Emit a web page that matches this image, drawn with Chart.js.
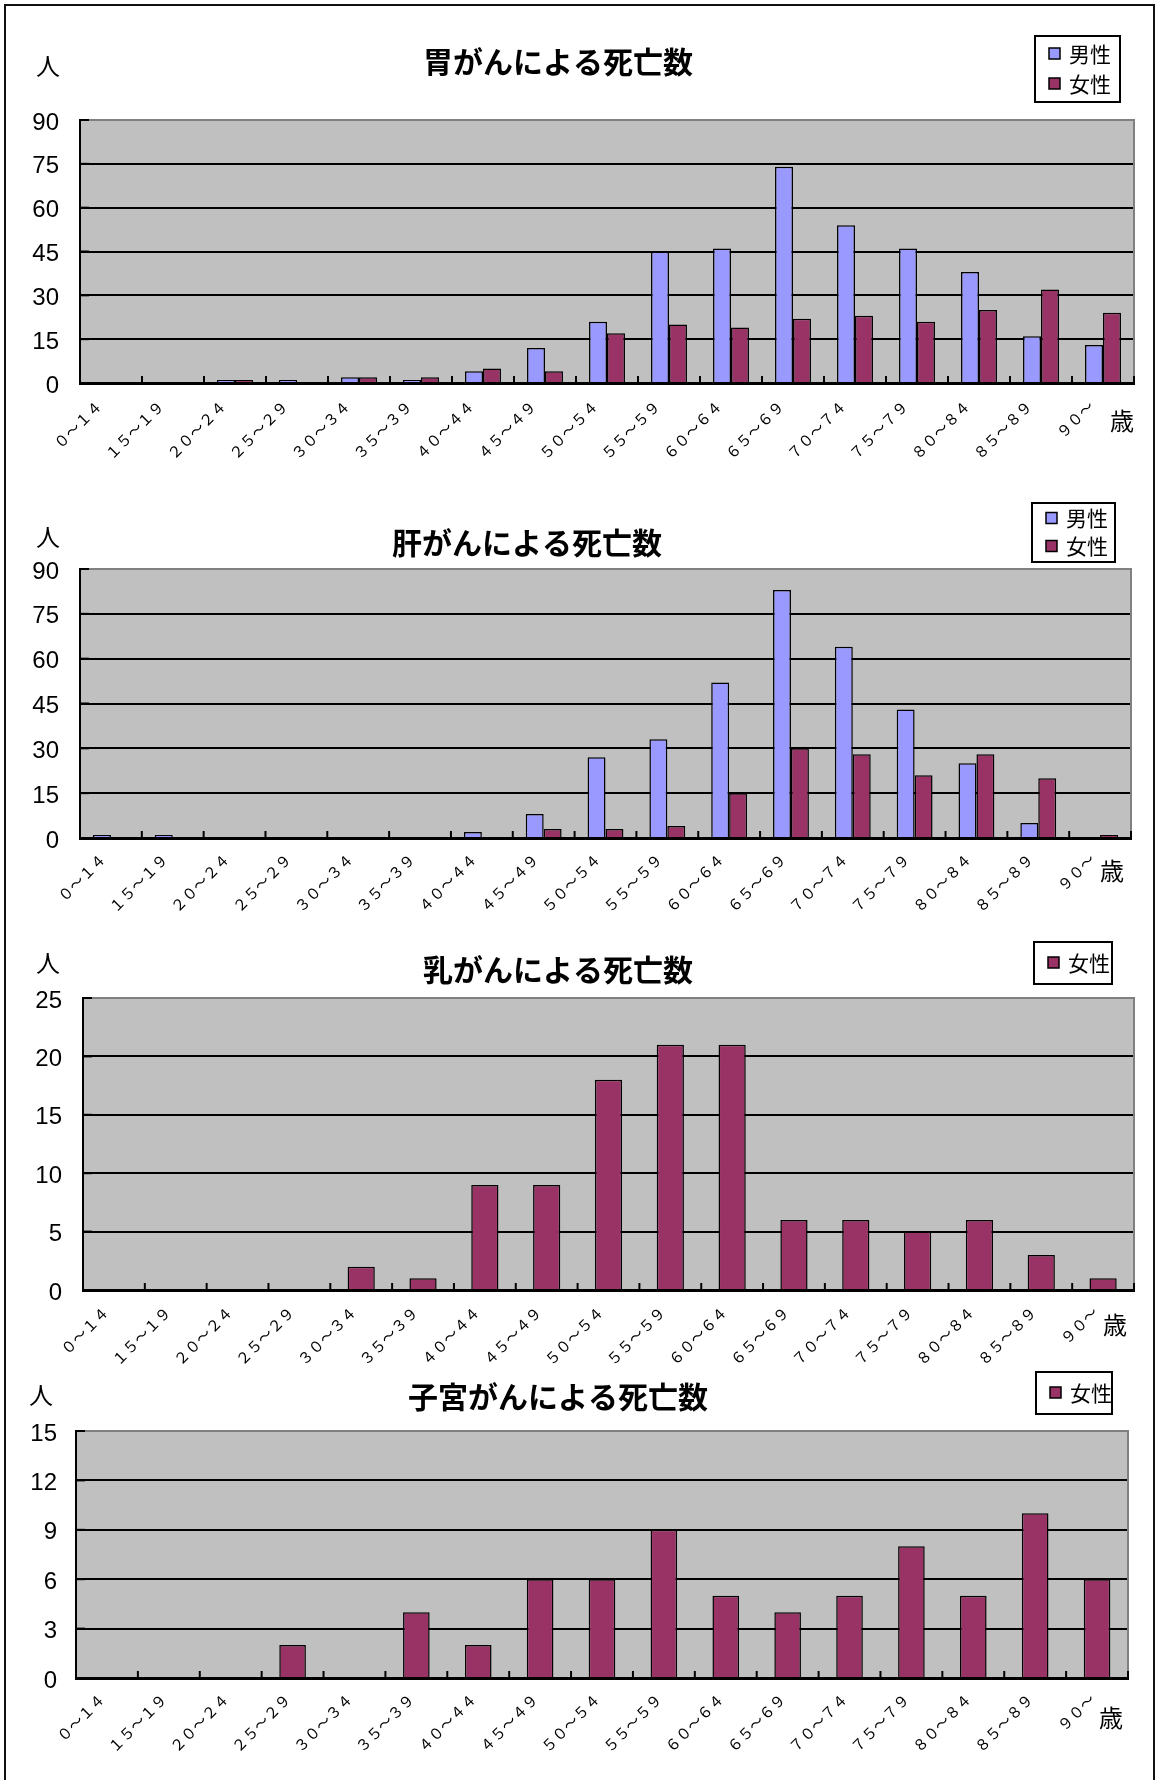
<!DOCTYPE html>
<html lang="ja">
<head>
<meta charset="utf-8">
<title>がんによる死亡数</title>
<script src="https://cdn.jsdelivr.net/npm/chart.js@4.4.1/dist/chart.umd.min.js"></script>
<style>
  body { margin: 0; background: #fff; }
  #page { position: relative; width: 1158px; height: 1780px; overflow: hidden; }
  #frame { position: absolute; left: 4px; top: 4px; width: 1151px; height: 1800px; border: 2px solid #111; box-sizing: border-box; }
  canvas { position: absolute; left: 0; }
</style>
</head>
<body>
<div id="page">
  <div id="frame"></div>
  <canvas id="stomach" width="1158" height="465" style="top:0px"></canvas>
  <canvas id="liver" width="1158" height="450" style="top:465px"></canvas>
  <canvas id="breast" width="1158" height="465" style="top:915px"></canvas>
  <canvas id="uterus" width="1158" height="425" style="top:1355px"></canvas>
</div>
<script>
// Age groups (x axis)
const ageGroups = [
  "０～１４", "１５～１９", "２０～２４", "２５～２９", "３０～３４", "３５～３９",
  "４０～４４", "４５～４９", "５０～５４", "５５～５９", "６０～６４", "６５～６９",
  "７０～７４", "７５～７９", "８０～８４", "８５～８９", "９０～"
];

// Deaths per age group
const stomachMale   = [0, 0, 1, 1, 2, 1, 4, 12, 21, 45, 46, 74, 54, 46, 38, 16, 13];
const stomachFemale = [0, 0, 1, 0, 2, 2, 5, 4, 17, 20, 19, 22, 23, 21, 25, 32, 24];
const liverMale     = [1, 1, 0, 0, 0, 0, 2, 8, 27, 33, 52, 83, 64, 43, 25, 5, 0];
const liverFemale   = [0, 0, 0, 0, 0, 0, 0, 3, 3, 4, 15, 30, 28, 21, 28, 20, 1];
const breastFemale  = [0, 0, 0, 0, 2, 1, 9, 9, 18, 21, 21, 6, 6, 5, 6, 3, 1];
const uterusFemale  = [0, 0, 0, 2, 0, 4, 2, 6, 6, 9, 5, 4, 5, 8, 5, 10, 6];

const maleColor = "#9999ff";
const femaleColor = "#993366";
const jpFont = '"Noto Sans CJK JP", sans-serif';

// Gray plot background, frame, inside tick marks, title, units and boxed legend
const decor = {
  id: "decor",
  beforeDraw(chart) {
    const { ctx, chartArea: a } = chart;
    ctx.save();
    ctx.fillStyle = "#c0c0c0";
    ctx.fillRect(a.left, a.top, a.right - a.left, a.bottom - a.top);
    ctx.restore();
  },
  beforeDatasetsDraw(chart) {
    const { ctx, chartArea: a } = chart;
    ctx.save();
    ctx.strokeStyle = "#808080";
    ctx.lineWidth = 2;
    ctx.beginPath();
    ctx.moveTo(a.left, a.top);
    ctx.lineTo(a.right, a.top);
    ctx.lineTo(a.right, a.bottom);
    ctx.stroke();
    // short inward ticks on the value axis
    ctx.strokeStyle = "#000";
    chart.scales.y.ticks.forEach((t) => {
      const py = chart.scales.y.getPixelForValue(t.value);
      ctx.beginPath();
      ctx.moveTo(a.left, py);
      ctx.lineTo(a.left + 9, py);
      ctx.stroke();
    });
    ctx.restore();
  },
  afterDatasetsDraw(chart) {
    const { ctx, chartArea: a } = chart;
    const x = chart.scales.x;
    const n = chart.data.labels.length;
    ctx.save();
    ctx.strokeStyle = "#000";
    ctx.lineWidth = 2;
    for (let i = 1; i <= n; i++) {
      const px = i < n ? (x.getPixelForValue(i - 1) + x.getPixelForValue(i)) / 2 : a.right;
      ctx.beginPath();
      ctx.moveTo(px, a.bottom);
      ctx.lineTo(px, a.bottom - 7);
      ctx.stroke();
    }
    ctx.restore();
  },
  afterDraw(chart, args, o) {
    const ctx = chart.ctx;
    ctx.save();
    ctx.fillStyle = "#000";
    ctx.textBaseline = "middle";
    ctx.textAlign = "center";
    ctx.font = "bold 30px " + jpFont;
    ctx.fillText(o.title, o.titleX, o.titleY);
    ctx.font = "24px " + jpFont;
    ctx.fillText("人", o.personX, o.personY);
    ctx.fillText("歳", o.ageX, o.ageY);

    // legend box
    const L = o.legend;
    ctx.fillStyle = "#fff";
    ctx.fillRect(L.x, L.y, L.w, L.h);
    ctx.strokeStyle = "#000";
    ctx.lineWidth = 2;
    ctx.strokeRect(L.x, L.y, L.w, L.h);
    const sets = chart.data.datasets;
    let cy = L.y + (L.h - L.rowH * sets.length) / 2 + L.rowH / 2;
    ctx.font = "21px " + jpFont;
    ctx.textAlign = "left";
    sets.forEach((ds) => {
      ctx.fillStyle = ds.backgroundColor;
      ctx.fillRect(L.x + 14, cy - 6, 11, 11);
      ctx.lineWidth = 1.5;
      ctx.strokeRect(L.x + 14, cy - 6, 11, 11);
      ctx.fillStyle = "#000";
      ctx.fillText(ds.label, L.x + 34, cy);
      cy += L.rowH;
    });
    ctx.restore();
  },
};

function makeChart(id, datasets, o) {
  const canvas = document.getElementById(id);
  const yW = 60, xH = 80;
  return new Chart(canvas, {
    type: "bar",
    data: { labels: ageGroups, datasets: datasets },
    options: {
      responsive: false,
      animation: false,
      datasets: { bar: { barPercentage: 1, categoryPercentage: o.catPct } },
      layout: {
        padding: {
          left: o.plot[0] - yW,
          top: o.plot[1],
          right: canvas.width - o.plot[2],
          bottom: canvas.height - o.plot[3] - xH,
        },
      },
      plugins: {
        legend: { display: false },
        title: { display: false },
        tooltip: { enabled: false },
        decor: o.decor,
      },
      scales: {
        x: {
          z: 1,
          afterFit: (s) => { s.height = xH; },
          grid: { display: false, drawTicks: false },
          border: { display: true, color: "#000", width: 3 },
          ticks: {
            autoSkip: false,
            minRotation: 45,
            maxRotation: 45,
            padding: o.xPad,
            labelOffset: o.xOffset,
            color: "#000",
            font: { family: jpFont, size: 15 },
          },
        },
        y: {
          min: 0,
          max: o.yMax,
          afterFit: (s) => { s.width = yW; },
          grid: {
            drawTicks: false,
            lineWidth: 2,
            color: (c) => (c.tick && c.tick.value === o.yMax ? "rgba(0,0,0,0)" : "#000"),
          },
          border: { display: true, color: "#000", width: 2 },
          ticks: {
            stepSize: o.yStep,
            padding: o.yPad,
            labelOffset: 3,
            color: "#000",
            font: { family: '"Liberation Sans", Arial, sans-serif', size: 24 },
          },
        },
      },
    },
    plugins: [decor],
  });
}

const bar = (label, data, color) => ({
  label: label,
  data: data,
  backgroundColor: color,
  borderColor: "#000",
  borderWidth: 1.5,
});

makeChart("stomach", [bar("男性", stomachMale, maleColor), bar("女性", stomachFemale, femaleColor)], {
  plot: [80, 120, 1134, 383], yMax: 90, yStep: 15, yPad: 21, catPct: 0.58, xPad: 14, xOffset: -12,
  decor: {
    title: "胃がんによる死亡数", titleX: 558, titleY: 62,
    personX: 48, personY: 66, ageX: 1122, ageY: 421,
    legend: { x: 1035, y: 36, w: 85, h: 66, rowH: 30 },
  },
});

makeChart("liver", [bar("男性", liverMale, maleColor), bar("女性", liverFemale, femaleColor)], {
  plot: [80, 104, 1131, 373], yMax: 90, yStep: 15, yPad: 21, catPct: 0.58, xPad: 12, xOffset: -8,
  decor: {
    title: "肝がんによる死亡数", titleX: 527, titleY: 78,
    personX: 48, personY: 72, ageX: 1112, ageY: 406,
    legend: { x: 1032, y: 38, w: 83, h: 59, rowH: 28 },
  },
});

makeChart("breast", [bar("女性", breastFemale, femaleColor)], {
  plot: [83, 83, 1134, 375], yMax: 25, yStep: 5, yPad: 21, catPct: 0.44, xPad: 13, xOffset: -8,
  decor: {
    title: "乳がんによる死亡数", titleX: 558, titleY: 55,
    personX: 48, personY: 48, ageX: 1115, ageY: 410,
    legend: { x: 1034, y: 27, w: 78, h: 42, rowH: 28 },
  },
});

makeChart("uterus", [bar("女性", uterusFemale, femaleColor)], {
  plot: [76, 76, 1128, 323], yMax: 15, yStep: 3, yPad: 19, catPct: 0.43, xPad: 12, xOffset: -5,
  decor: {
    title: "子宮がんによる死亡数", titleX: 558, titleY: 42,
    personX: 41, personY: 40, ageX: 1111, ageY: 363,
    legend: { x: 1036, y: 17, w: 76, h: 42, rowH: 28 },
  },
});
</script>
</body>
</html>
